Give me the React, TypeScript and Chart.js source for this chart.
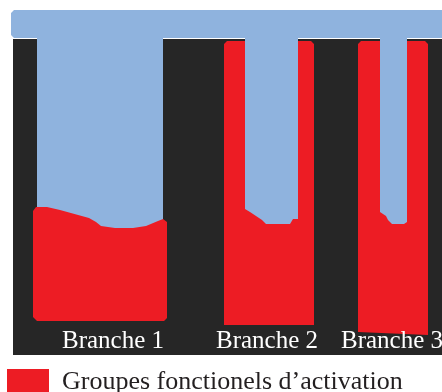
import React, { useEffect, useRef } from "react";
import { Chart, registerables } from "chart.js";

Chart.register(...registerables);

// Branch captions and where they sit (lateral position, depth)
const branchLabels = ["Branche 1", "Branche 2", "Branche 3"];
const branchLabelX = [113, 267, 392];
const branchLabelDepth = 348;
const legendLabel = "Groupes fonctionels d\u2019activation";

// Schematic outlines: [lateral position, depth]
const frameOutline = [[13, 39], [442, 39], [442, 355], [13, 355]];
const bandOutline = [[11, 13], [14, 10], [442, 10], [442, 38], [14, 38], [11, 35]];
const channel1 = [[37, 36], [163, 36], [163, 232], [37, 232]];
const channel2 = [[245, 36], [298, 36], [298, 219], [293, 219], [290, 224], [266, 224], [262, 220], [250, 212], [245, 209]];
const channel3 = [[380, 36], [407, 36], [407, 222], [404, 224], [392, 224], [388, 220], [386, 216], [380, 212]];
const group1 = [[33, 211], [36, 207], [47, 207], [60, 210], [89, 218], [96, 222], [101, 226], [115, 228], [133, 228], [146, 226], [158, 221], [163, 219], [167, 222], [167, 318], [164, 321], [37, 321], [33, 317]];
const group2 = [[224, 44], [227, 41], [311, 41], [314, 44], [314, 325], [224, 325]];
const group3 = [[358, 44], [361, 41], [425, 41], [428, 44], [428, 335], [358, 332]];

const BLUE = "#8fb3de";
const RED = "#ed1c24";
const FRAME = "#262626";

const toPoints = (outline: number[][]) => outline.map(([x, y]) => ({ x, y }));

const shape = (label: string, outline: number[][], color: string, order: number) => ({
  label,
  data: toPoints(outline),
  showLine: true,
  fill: "shape",
  backgroundColor: color,
  borderColor: "transparent",
  borderWidth: 0,
  pointRadius: 0,
  tension: 0,
  order,
});

const branchLabelPlugin = {
  id: "branchLabels",
  afterDatasetsDraw(chart: any) {
    const { ctx, scales } = chart;
    ctx.save();
    ctx.fillStyle = "#ffffff";
    ctx.font = "25px 'Liberation Serif', 'Times New Roman', serif";
    ctx.textAlign = "center";
    ctx.textBaseline = "alphabetic";
    branchLabels.forEach((t, i) => {
      ctx.fillText(t, scales.x.getPixelForValue(branchLabelX[i]), scales.y.getPixelForValue(branchLabelDepth));
    });
    ctx.restore();
  },
};

export default function App() {
  const ref = useRef<HTMLCanvasElement | null>(null);
  useEffect(() => {
    if (!ref.current) return;
    const chart = new Chart(ref.current, {
      type: "scatter",
      data: {
        datasets: [
          shape("canal 2", channel2, BLUE, 0),
          shape("canal 3", channel3, BLUE, 1),
          shape(legendLabel, group1, RED, 2),
          shape("groupe 2", group2, RED, 3),
          shape("groupe 3", group3, RED, 4),
          shape("canal 1", channel1, BLUE, 5),
          shape("bande", bandOutline, BLUE, 6),
          shape("cadre", frameOutline, FRAME, 7),
        ] as any,
      },
      options: {
        animation: false,
        responsive: true,
        maintainAspectRatio: false,
        events: [],
        layout: { padding: { left: 0, right: 0, top: 0, bottom: -13 } },
        scales: {
          x: { type: "linear", min: 0, max: 442, display: false },
          y: { type: "linear", min: 0, max: 362, reverse: true, display: false },
        },
        plugins: {
          tooltip: { enabled: false },
          legend: {
            position: "bottom",
            align: "start",
            labels: {
              filter: (item: any) => item.text === legendLabel,
              boxWidth: 42,
              boxHeight: 26,
              padding: 7,
              color: "#231f20",
              font: { family: "'Liberation Serif', 'Times New Roman', serif", size: 26 },
            },
          },
        },
      },
      plugins: [branchLabelPlugin],
    });
    return () => chart.destroy();
  }, []);
  return (
    <div style={{ position: "fixed", left: 0, top: 0, width: 442, height: 392, background: "#ffffff" }}>
      <canvas ref={ref} />
    </div>
  );
}
